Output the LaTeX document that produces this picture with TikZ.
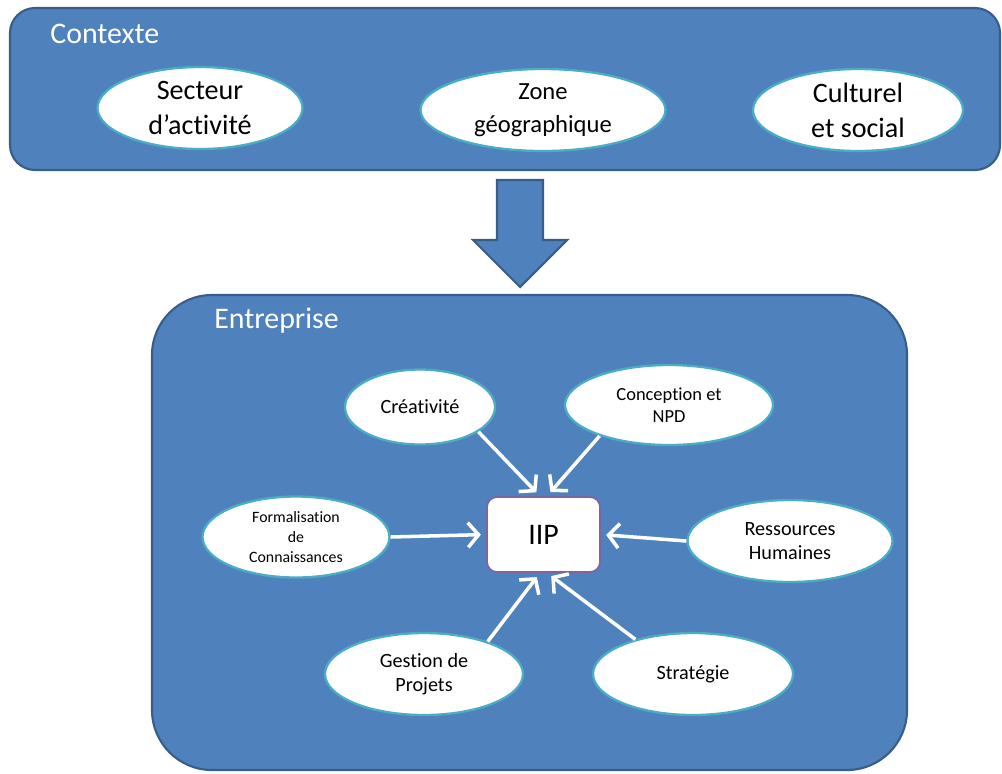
\documentclass[tikz,border=0pt]{standalone}
\usepackage{fontspec}
\setmainfont[Ligatures={NoCommon,NoContextual}]{Carlito}
\usepackage{tikz}
\usetikzlibrary{arrows.meta, positioning, shapes.geometric}
\definecolor{panelblue}{HTML}{4F81BD}
\definecolor{paneledge}{HTML}{385D8A}
\definecolor{ovaledge}{HTML}{4BACC6}
\definecolor{iipedge}{HTML}{8064A2}

\begin{document}
\begin{tikzpicture}[
  panel/.style={draw=paneledge, line width=1.2pt, fill=panelblue, inner sep=0pt},
  ptitle/.style={anchor=west, text=white, font=\fontsize{17}{20}\selectfont, inner sep=0pt},
  oval/.style={ellipse, draw=ovaledge, line width=1.3pt, fill=white, inner sep=0pt, align=center},
  bigoval/.style={oval, minimum height=1.64cm, font=\fontsize{16}{20}\selectfont},
  smalloval/.style={oval, font=\fontsize{11.5}{13.5}\selectfont},
  conn/.style={-{Straight Barb[length=6pt, width=14pt, line width=2pt]}, white, line width=2pt, shorten >=3pt},
]
\useasboundingbox (0,0) rectangle (20.04,-15.46);

% Contexte
\node[panel, rounded corners=0.5cm, minimum width=19.8cm, minimum height=3.24cm] (contexte) at (10.1,-1.78) {};
\node[ptitle] (ctitle) at (1.0,-0.68) {Contexte};
\node[bigoval, minimum width=4.1cm] (secteur) at (4.0,-2.16) {Secteur\\d’activité};
\node[bigoval, minimum width=4.9cm, font=\fontsize{14}{19}\selectfont] (zone) at (10.86,-2.2) {Zone\\géographique};
\node[bigoval, minimum width=4.2cm] (culture) at (17.16,-2.2) {Culturel\\et social};

% Fleche
\draw[panel] (9.94,-3.6) -- (10.86,-3.6) -- (10.86,-4.8) -- (11.34,-4.8) -- (10.4,-5.74)
  -- (9.46,-4.8) -- (9.94,-4.8) -- cycle;

% Entreprise
\node[panel, rounded corners=1.2cm, minimum width=15.1cm, minimum height=9.5cm] (entreprise) at (10.59,-10.65) {};
\node[ptitle] (etitle) at (4.28,-6.42) {Entreprise};

% IIP
\node[draw=iipedge, line width=1pt, fill=white, rounded corners=0.2cm, minimum width=2.26cm, minimum height=1.5cm,
  font=\fontsize{17}{20}\selectfont] (iip) at (10.87,-10.69) {IIP};

% Leviers
\node[smalloval, minimum width=3.0cm, minimum height=1.5cm] (crea) at (8.4,-8.14) {Créativité};
\node[smalloval, minimum width=4.16cm, minimum height=1.6cm, font=\fontsize{10.5}{12.5}\selectfont] (conc) at (13.38,-8.1) {Conception et\\NPD};
\node[smalloval, minimum width=3.74cm, minimum height=1.62cm, font=\fontsize{9}{11.4}\selectfont] (form) at (5.92,-10.74) {Formalisation\\de\\Connaissances};
\node[smalloval, minimum width=4.1cm, minimum height=1.64cm] (rh) at (15.8,-10.82) {Ressources\\Humaines};
\node[smalloval, minimum width=3.96cm, minimum height=1.64cm] (gest) at (8.48,-13.48) {Gestion de\\Projets};
\node[smalloval, minimum width=4.0cm, minimum height=1.64cm] (strat) at (13.86,-13.48) {Stratégie};

% Liens
\draw[conn] (crea.-23) -- ([xshift=-2pt]iip.north);
\draw[conn] (conc.204) -- ([xshift=2pt]iip.north);
\draw[conn] (form.east) -- (iip.west);
\draw[conn] (rh.west) -- (iip.east);
\draw[conn] (gest.27) -- ([xshift=-2pt]iip.south);
\draw[conn] (strat.149) -- ([xshift=2pt]iip.south);
\end{tikzpicture}
\end{document}
